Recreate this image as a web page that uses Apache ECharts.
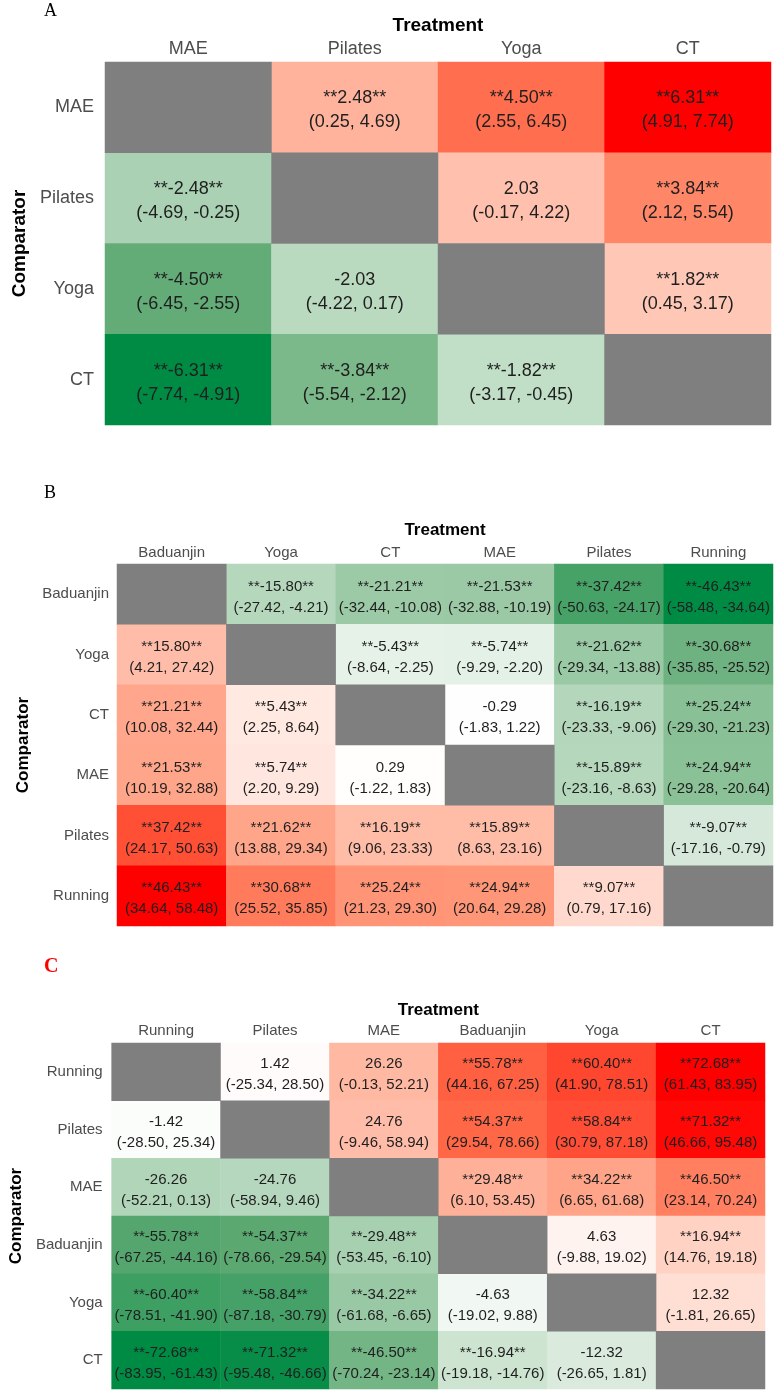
<!DOCTYPE html>
<html>
<head>
<meta charset="utf-8">
<title>League table heatmaps</title>
<script src="https://cdn.jsdelivr.net/npm/echarts@6/dist/echarts.min.js"></script>
<style>
  html, body { margin: 0; padding: 0; background: #fff; }
  #chart { width: 782px; height: 1400px; }
</style>
</head>
<body>
<div id="chart"></div>
<script>
// A: rows = comparator, cols = treatment
const aCats = ['MAE', 'Pilates', 'Yoga', 'CT']
const aEst = [
  [null, 2.48, 4.50, 6.31],
  [-2.48, null, 2.03, 3.84],
  [-4.50, -2.03, null, 1.82],
  [-6.31, -3.84, -1.82, null]
]
const aLo = [
  [null, 0.25, 2.55, 4.91],
  [-4.69, null, -0.17, 2.12],
  [-6.45, -4.22, null, 0.45],
  [-7.74, -5.54, -3.17, null]
]
const aHi = [
  [null, 4.69, 6.45, 7.74],
  [-0.25, null, 4.22, 5.54],
  [-2.55, 0.17, null, 3.17],
  [-4.91, -2.12, -0.45, null]
]

// B
const bCats = ['Baduanjin', 'Yoga', 'CT', 'MAE', 'Pilates', 'Running']
const bEst = [
  [null, -15.80, -21.21, -21.53, -37.42, -46.43],
  [15.80, null, -5.43, -5.74, -21.62, -30.68],
  [21.21, 5.43, null, -0.29, -16.19, -25.24],
  [21.53, 5.74, 0.29, null, -15.89, -24.94],
  [37.42, 21.62, 16.19, 15.89, null, -9.07],
  [46.43, 30.68, 25.24, 24.94, 9.07, null]
]
const bLo = [
  [null, -27.42, -32.44, -32.88, -50.63, -58.48],
  [4.21, null, -8.64, -9.29, -29.34, -35.85],
  [10.08, 2.25, null, -1.83, -23.33, -29.30],
  [10.19, 2.20, -1.22, null, -23.16, -29.28],
  [24.17, 13.88, 9.06, 8.63, null, -17.16],
  [34.64, 25.52, 21.23, 20.64, 0.79, null]
]
const bHi = [
  [null, -4.21, -10.08, -10.19, -24.17, -34.64],
  [27.42, null, -2.25, -2.20, -13.88, -25.52],
  [32.44, 8.64, null, 1.22, -9.06, -21.23],
  [32.88, 9.29, 1.83, null, -8.63, -20.64],
  [50.63, 29.34, 23.33, 23.16, null, -0.79],
  [58.48, 35.85, 29.30, 29.28, 17.16, null]
]

// C
const cCats = ['Running', 'Pilates', 'MAE', 'Baduanjin', 'Yoga', 'CT']
const cEst = [
  [null, 1.42, 26.26, 55.78, 60.40, 72.68],
  [-1.42, null, 24.76, 54.37, 58.84, 71.32],
  [-26.26, -24.76, null, 29.48, 34.22, 46.50],
  [-55.78, -54.37, -29.48, null, 4.63, 16.94],
  [-60.40, -58.84, -34.22, -4.63, null, 12.32],
  [-72.68, -71.32, -46.50, -16.94, -12.32, null]
]
const cLo = [
  [null, -25.34, -0.13, 44.16, 41.90, 61.43],
  [-28.50, null, -9.46, 29.54, 30.79, 46.66],
  [-52.21, -58.94, null, 6.10, 6.65, 23.14],
  [-67.25, -78.66, -53.45, null, -9.88, 14.76],
  [-78.51, -87.18, -61.68, -19.02, null, -1.81],
  [-83.95, -95.48, -70.24, -19.18, -26.65, null]
]
const cHi = [
  [null, 28.50, 52.21, 67.25, 78.51, 83.95],
  [25.34, null, 58.94, 78.66, 87.18, 95.48],
  [0.13, 9.46, null, 53.45, 61.68, 70.24],
  [-44.16, -29.54, -6.10, null, 19.02, 19.18],
  [-41.90, -30.79, -6.65, 9.88, null, 26.65],
  [-61.43, -46.66, -23.14, -14.76, 1.81, null]
]

// green - white - red, stops taken along Lab
const palette = ['#008B45', '#5BA871', '#93C59E', '#C9E2CE', '#FFFFFF', '#FFCFBF', '#FF9E81', '#FF6746', '#FF0000']

const panels = [
  { cats: aCats, est: aEst, lo: aLo, hi: aHi,
    grid: { left: 105, top: 62, width: 666, height: 363 },
    cellFont: 18, lineH: 24, tickFont: 18, nameFont: 19,
    xGap: 27, yGap: 73, xMargin: 4, yMargin: 11 },
  { cats: bCats, est: bEst, lo: bLo, hi: bHi,
    grid: { left: 117, top: 564, width: 656, height: 362 },
    cellFont: 15, lineH: 21, tickFont: 15, nameFont: 17,
    xGap: 25, yGap: 80, xMargin: 4, yMargin: 8 },
  { cats: cCats, est: cEst, lo: cLo, hi: cHi,
    grid: { left: 107, top: 1043, width: 658, height: 346 },
    cellFont: 15, lineH: 21, tickFont: 15, nameFont: 17,
    xGap: 24, yGap: 76, xMargin: 5, yMargin: 9 }
]

const fmt = v => v.toFixed(2)

const grids = []
const xAxes = []
const yAxes = []
const series = []
const visualMaps = []

panels.forEach((p, k) => {
  const cells = []
  const diag = []
  let maxAbs = 0
  p.est.forEach((row, r) => {
    row.forEach((v, c) => {
      if (v === null) {
        diag.push([c, r, 0])
      } else {
        cells.push([c, r, v])
        maxAbs = Math.max(maxAbs, Math.abs(v))
      }
    })
  })

  grids.push(p.grid)
  xAxes.push({
    type: 'category', gridIndex: k, position: 'top', data: p.cats,
    name: 'Treatment', nameLocation: 'middle', nameGap: p.xGap,
    nameTextStyle: { fontFamily: 'Liberation Sans', fontSize: p.nameFont, fontWeight: 'bold', color: '#000' },
    axisLine: { show: false }, axisTick: { show: false }, splitLine: { show: false },
    axisLabel: { fontFamily: 'Liberation Sans', fontSize: p.tickFont, color: '#4d4d4d', margin: p.xMargin }
  })
  yAxes.push({
    type: 'category', gridIndex: k, inverse: true, data: p.cats,
    name: 'Comparator', nameLocation: 'middle', nameGap: p.yGap, nameRotate: 90,
    nameTextStyle: { fontFamily: 'Liberation Sans', fontSize: p.nameFont, fontWeight: 'bold', color: '#000' },
    axisLine: { show: false }, axisTick: { show: false }, splitLine: { show: false },
    axisLabel: { fontFamily: 'Liberation Sans', fontSize: p.tickFont, color: '#4d4d4d', margin: p.yMargin }
  })

  series.push({
    type: 'heatmap', xAxisIndex: k, yAxisIndex: k, data: cells,
    emphasis: { disabled: true },
    label: {
      show: true,
      fontFamily: 'Liberation Sans', fontSize: p.cellFont, lineHeight: p.lineH,
      color: '#1f1f1f', offset: [0, 3],
      formatter: (d) => {
        const r = d.data[1], c = d.data[0]
        const lo = p.lo[r][c], hi = p.hi[r][c]
        const sig = lo > 0 || hi < 0
        const est = fmt(p.est[r][c])
        return (sig ? '**' + est + '**' : est) + '\n(' + fmt(lo) + ', ' + fmt(hi) + ')'
      }
    }
  })
  visualMaps.push({
    type: 'continuous', show: false, seriesIndex: series.length - 1, dimension: 2,
    min: -maxAbs, max: maxAbs, inRange: { color: palette }
  })

  // grey diagonal
  series.push({
    type: 'heatmap', xAxisIndex: k, yAxisIndex: k, data: diag,
    emphasis: { disabled: true },
    itemStyle: { color: '#7f7f7f' }
  })
  visualMaps.push({
    type: 'piecewise', show: false, seriesIndex: series.length - 1, dimension: 2,
    pieces: [{ min: -1, max: 1, color: '#7f7f7f' }]
  })
})

const chart = echarts.init(document.getElementById('chart'), null, { renderer: 'canvas' })
chart.setOption({
  animation: false,
  backgroundColor: '#fff',
  grid: grids,
  xAxis: xAxes,
  yAxis: yAxes,
  visualMap: visualMaps,
  series: series,
  graphic: [
    { type: 'text', left: 44, top: 2, style: { text: 'A', fontFamily: 'Liberation Serif', fontSize: 18, fill: '#000' } },
    { type: 'text', left: 44, top: 484, style: { text: 'B', fontFamily: 'Liberation Serif', fontSize: 18, fill: '#000' } },
    { type: 'text', left: 44, top: 957, style: { text: 'C', fontFamily: 'Liberation Serif', fontSize: 20, fontWeight: 'bold', fill: '#ff0000' } }
  ]
})
</script>
</body>
</html>
